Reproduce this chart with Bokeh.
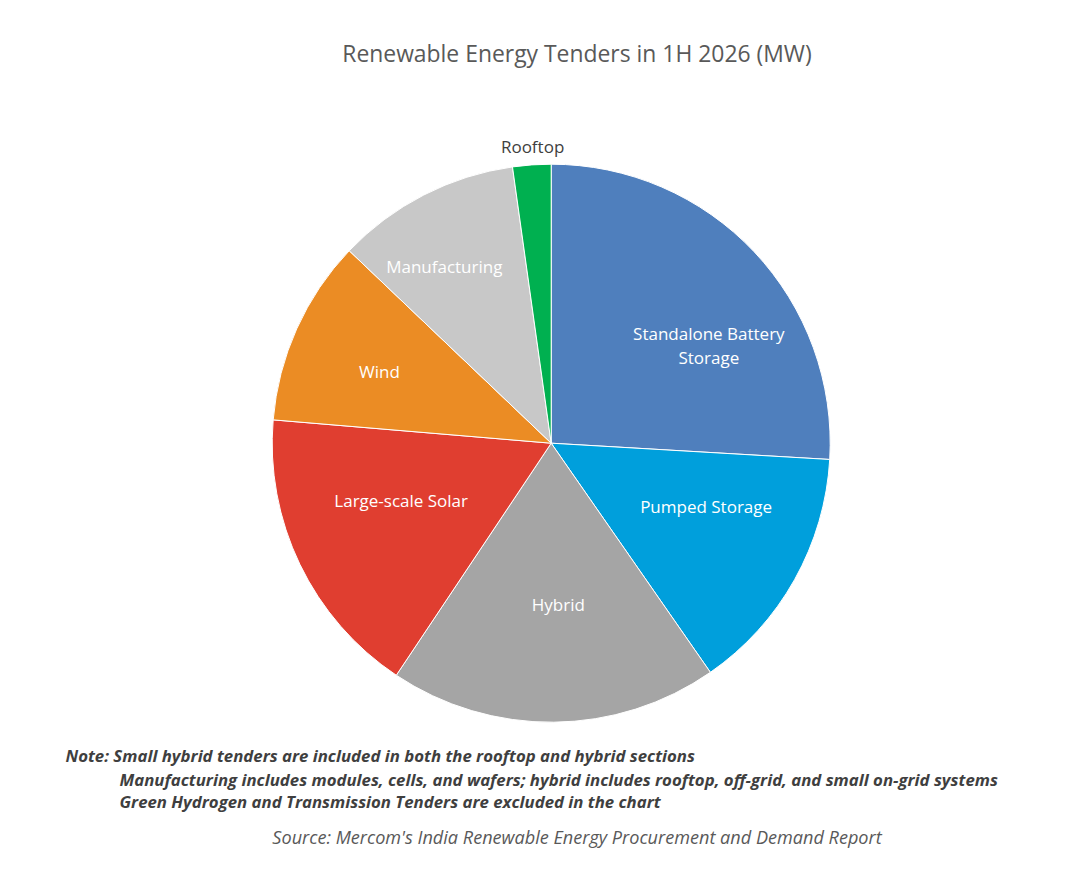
import numpy as np
from bokeh.plotting import figure
from bokeh.models import ColumnDataSource, Range1d, Label
from bokeh.core.properties import value
from bokeh.embed import file_html
from bokeh.resources import INLINE

# ---- data (MW) ----
categories = ["Standalone Battery\nStorage", "Pumped Storage", "Hybrid",
              "Large-scale Solar", "Wind", "Manufacturing", "Rooftop"]
mw_values = [11410, 6340, 8375, 7465, 4745, 4695, 975]
colors = ["#4F7FBD", "#009FDC", "#A5A5A5", "#E03E30", "#EB8C24", "#C8C8C8", "#00B050"]
label_colors = ["white", "white", "white", "white", "white", "white", "#404040"]
# label placement styling (radius fraction, angle nudge in degrees)
label_rfrac = [0.665, 0.60, 0.58, 0.575, 0.667, 0.74, 1.065]
label_nudge = [-11.5, 7.0, 2.0, -5.0, 1.5, 4.0, -0.4]

title_text = "Renewable Energy Tenders in 1H 2026 (MW)"
note_lines = ["Note: Small hybrid tenders are included in both the rooftop and hybrid sections",
              "Manufacturing includes modules, cells, and wafers; hybrid includes rooftop, off-grid, and small on-grid systems",
              "Green Hydrogen and Transmission Tenders are excluded in the chart"]
source_text = "Source: Mercom's India Renewable Energy Procurement and Demand Report"

# ---- geometry ----
W, H = 1054, 869
CX, CY = 550.7, 442.7   # pie centre in page pixels
R = 279.0
FONT = "Open Sans"

def px(X, Y):
    return X - CX, CY - Y

vals = np.array(mw_values, dtype=float)
frac = vals / vals.sum()
cum_after = np.cumsum(frac)
cum_before = cum_after - frac
a_hi = 90 - 360 * cum_before
a_lo = 90 - 360 * cum_after
mid = (a_hi + a_lo) / 2 + np.array(label_nudge)
lr = np.array(label_rfrac) * R
lx = lr * np.cos(np.radians(mid))
ly = lr * np.sin(np.radians(mid))

src = ColumnDataSource(dict(start=np.radians(a_lo), end=np.radians(a_hi), color=colors,
                            cat=categories, lx=lx, ly=ly, lcolor=label_colors))

p = figure(width=W, height=H, output_backend="svg", toolbar_location=None,
           x_range=Range1d(-CX, W - CX), y_range=Range1d(CY - H, CY),
           min_border=0, outline_line_color=None, background_fill_color="white",
           border_fill_color="white")
p.axis.visible = False
p.grid.visible = False

p.wedge(x=0, y=0, radius=R, start_angle="start", end_angle="end",
        direction="anticlock", fill_color="color", line_color="white", line_width=1,
        source=src)

p.text(x="lx", y="ly", text="cat", text_color="lcolor", text_font=value(FONT),
       text_font_size="17px", text_align="center", text_baseline="middle",
       text_line_height=1.05, source=src)

def add_label(X, Y, txt, size, color, style="normal", align="center"):
    x, y = px(X, Y)
    p.add_layout(Label(x=x, y=y, text=txt, text_font=FONT, text_font_size=size,
                       text_color=color, text_font_style=style, text_align=align,
                       text_baseline="middle"))

add_label(576.5, 53, title_text, "22.9px", "#595959")
add_label(65, 755, note_lines[0], "16.8px", "#3F3F3F", "bold italic", "left")
add_label(119, 779, note_lines[1], "16.8px", "#3F3F3F", "bold italic", "left")
add_label(119, 801, note_lines[2], "16.8px", "#3F3F3F", "bold italic", "left")
add_label(576.5, 836, source_text, "18.1px", "#595959", "italic")

open("out.html", "w").write(file_html(p, INLINE))
